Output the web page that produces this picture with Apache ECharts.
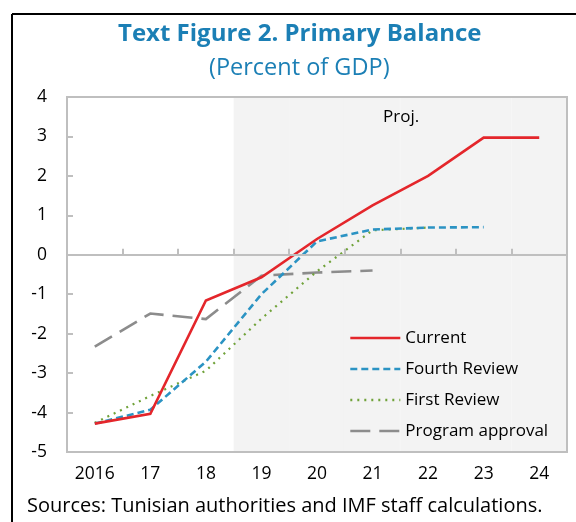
<!DOCTYPE html>
<html><head><meta charset="utf-8">
<script src="https://cdn.jsdelivr.net/npm/echarts@6/dist/echarts.min.js"></script>
<style>html,body{margin:0;padding:0;background:#fff}#c{width:576px;height:522px}</style>
</head><body><div id="c"></div>
<script>
const categories = ['2016','17','18','19','20','21','22','23','24'];
const current = [-4.28, -4.03, -1.16, -0.57, 0.40, 1.25, 2.0, 2.97, 2.97];
const fourthReview = [-4.28, -3.93, -2.71, -1.0, 0.34, 0.64, 0.69, 0.70, '-'];
const firstReview = [-4.26, -3.58, -2.94, -1.62, -0.42, 0.62, 0.69, '-', '-'];
const programApproval = [-2.33, -1.49, -1.63, -0.53, -0.45, -0.40, '-', '-', '-'];
const yTicks = [-5, -4, -3, -2, -1, 0, 1, 2, 3, 4];
const projStart = 3; // projections begin at 2019
const yMin = yTicks[0], yMax = yTicks[yTicks.length - 1];

const FONT = 'Open Sans';
const SHADE = '#f3f3f3';
const chart = echarts.init(document.getElementById('c'), null, {renderer: 'canvas'});
const projUp = categories.map((c, i) => i >= projStart ? yMax : '-');
const projDown = categories.map((c, i) => i >= projStart ? yMin : '-');

function lineSeries(name, data, color, width, type) {
  return {name, type: 'line', data, symbol: 'none', showSymbol: false, z: 3,
    lineStyle: {color, width, type, cap: 'butt', join: 'miter'}, itemStyle: {color}};
}
function shadeSeries(name, data) {
  return {name, type: 'bar', stack: 'proj', data, barWidth: '100%', barCategoryGap: '0%',
    itemStyle: {color: SHADE, borderColor: SHADE, borderWidth: 1}, z: 0, silent: true, legendHoverLink: false};
}

chart.setOption({
  animation: false,
  textStyle: {fontFamily: FONT},
  title: [
    {text: 'Text Figure 2. Primary Balance', left: 113, top: 17,
     textStyle: {fontFamily: FONT, fontSize: 24, fontWeight: 'bold', color: '#1b7fb5'}},
    {text: '(Percent of GDP)', left: 204, top: 51,
     textStyle: {fontFamily: FONT, fontSize: 23.5, fontWeight: 'normal', color: '#1b7fb5'}}
  ],
  grid: {left: 67, right: 9, top: 97, bottom: 70, show: true, borderColor: '#bfbfbf', borderWidth: 2, backgroundColor: 'transparent', z: 1},
  legend: {
    orient: 'vertical', left: 349, top: 329, padding: 0, itemWidth: 50, itemHeight: 14, itemGap: 13,
    data: ['Current', 'Fourth Review', 'First Review', 'Program approval'],
    itemStyle: {color: 'transparent', borderColor: 'transparent', borderWidth: 0, opacity: 0},
    lineStyle: {width: 2.6},
    textStyle: {fontFamily: FONT, fontSize: 17, color: '#000', lineHeight: 18}
  },
  xAxis: [
    {type: 'category', data: categories, position: 'bottom',
     axisLine: {show: false, onZero: false}, axisTick: {show: false}, splitLine: {show: false},
     axisLabel: {fontFamily: FONT, fontSize: 17.5, color: '#000', margin: 13}},
    {type: 'category', data: categories, position: 'top', z: 5,
     axisLine: {show: true, onZero: true, lineStyle: {color: '#bfbfbf', width: 2}},
     axisTick: {show: true, inside: false, length: 6, lineStyle: {color: '#bfbfbf', width: 2}},
     axisLabel: {show: false}, splitLine: {show: false}}
  ],
  yAxis: {type: 'value', min: yMin, max: yMax, interval: 1, z: 5,
    axisLine: {show: true, lineStyle: {color: '#bfbfbf', width: 2}},
    axisTick: {show: true, inside: true, length: 6, lineStyle: {color: '#bfbfbf', width: 2}},
    splitLine: {show: false},
    axisLabel: {fontFamily: FONT, fontSize: 17.5, color: '#000', margin: 20}},
  series: [
    shadeSeries('projUp', projUp),
    shadeSeries('projDown', projDown),
    lineSeries('Program approval', programApproval, '#8c8c8c', 2.6, [20, 9]),
    lineSeries('First Review', firstReview, '#70a23a', 2.2, [2, 5]),
    lineSeries('Fourth Review', fourthReview, '#2b93c3', 2.6, [7, 4]),
    lineSeries('Current', current, '#e4262b', 2.6, 'solid')
  ],
  graphic: [
    {type: 'line', shape: {x1: 12, y1: 14, x2: 576, y2: 14}, style: {stroke: '#000', lineWidth: 2}},
    {type: 'line', shape: {x1: 12, y1: 14, x2: 12, y2: 522}, style: {stroke: '#000', lineWidth: 2}},
    {type: 'text', left: 383, top: 109, style: {text: 'Proj.', fontFamily: FONT, fontSize: 17, fill: '#000'}, z: 10},
    {type: 'text', left: 27, top: 496, style: {text: 'Sources: Tunisian authorities and IMF staff calculations.', fontFamily: FONT, fontSize: 20, fill: '#000'}}
  ]
});
</script></body></html>
